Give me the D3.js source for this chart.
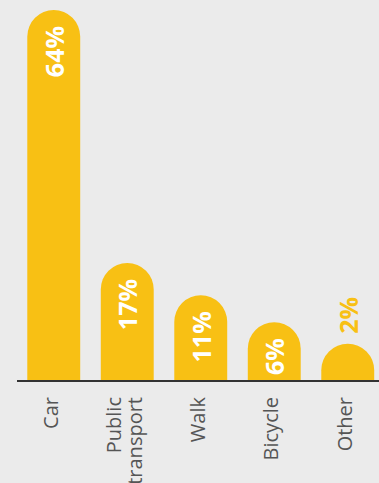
<!DOCTYPE html>
<html>
<head>
<meta charset="utf-8">
<script src="https://cdn.jsdelivr.net/npm/d3@7"></script>
<style>
  html, body { margin: 0; padding: 0; background: #ebebeb; }
  svg { display: block; }
</style>
</head>
<body>
<svg id="chart" width="379" height="483"></svg>
<script>
// Share of trips by mode of transport (%)
const categories = ["Car", "Public transport", "Walk", "Bicycle", "Other"];
const categoryLines = [["Car"], ["Public", "transport"], ["Walk"], ["Bicycle"], ["Other"]];
const values = [64, 17, 11, 6, 2];
const valueLabels = ["64%", "17%", "11%", "6%", "2%"];

const W = 379, H = 483;
const baseY = 381;
const yellow = "#f8c014";

const svg = d3.select("#chart");
svg.append("rect").attr("width", W).attr("height", H).attr("fill", "#ebebeb");

const x = d3.scaleBand()
  .domain(categories)
  .range([17, 384.5])
  .paddingInner(0.28)
  .paddingOuter(0.14);

const y = d3.scaleLinear().domain([0, 64]).range([baseY, baseY - 344.5]);

const bw = x.bandwidth();
const r = bw / 2;

// Bars with a semicircular cap on top of the value height
const bars = categories.map((c, i) => ({ c, v: values[i], label: valueLabels[i], lines: categoryLines[i] }));

svg.selectAll("path.bar")
  .data(bars)
  .join("path")
  .attr("class", "bar")
  .attr("fill", yellow)
  .attr("d", d => {
    const x0 = x(d.c), x1 = x0 + bw, top = y(d.v);
    return `M${x0},${baseY} L${x0},${top} A${r},${r} 0 0 1 ${x1},${top} L${x1},${baseY} Z`;
  });

// Value labels, rotated; inside the bar when it is tall enough, above it otherwise
svg.selectAll("text.value")
  .data(bars)
  .join("text")
  .attr("class", "value")
  .each(function(d) {
    const cx = x(d.c) + bw / 2;
    const capTop = y(d.v) - r;
    const inside = (baseY - capTop) > 50;
    const ty = inside ? capTop + 16 : capTop - 10;
    d3.select(this)
      .attr("transform", `translate(${cx},${ty}) rotate(-90)`)
      .attr("text-anchor", inside ? "end" : "start")
      .attr("dominant-baseline", "central")
      .attr("fill", inside ? "#ffffff" : yellow);
  })
  .style("font-family", "'Open Sans', sans-serif")
  .style("font-weight", "700")
  .style("font-size", "25px")
  .text(d => d.label);

// Baseline
svg.append("line")
  .attr("x1", 17).attr("x2", W)
  .attr("y1", baseY).attr("y2", baseY)
  .attr("stroke", "#333333")
  .attr("stroke-width", 2);

// Category labels, rotated
const cat = svg.selectAll("g.cat")
  .data(bars)
  .join("g")
  .attr("class", "cat")
  .attr("transform", d => `translate(${x(d.c) + bw / 2 - 3},${baseY + 16}) rotate(-90)`);

cat.append("text")
  .attr("text-anchor", "end")
  .attr("fill", "#555555")
  .style("font-family", "'Open Sans', sans-serif")
  .style("font-size", "20px")
  .selectAll("tspan")
  .data(d => d.lines.map((t, j) => ({ t, j, n: d.lines.length })))
  .join("tspan")
  .attr("x", 0)
  .attr("y", d => (d.j - (d.n - 1) / 2) * 21)
  .attr("dy", "0.35em")
  .text(d => d.t);
</script>
</body>
</html>
